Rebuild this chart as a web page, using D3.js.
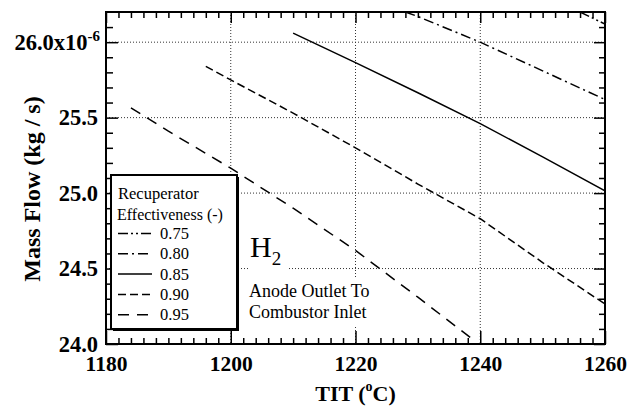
<!DOCTYPE html>
<html>
<head>
<meta charset="utf-8">
<script src="https://cdn.jsdelivr.net/npm/d3@7/dist/d3.min.js"></script>
<style>
  html, body { margin: 0; padding: 0; background: #fff; }
  svg { display: block; font-family: "Liberation Serif", "Times New Roman", serif; }
</style>
</head>
<body>
<svg id="chart" width="629" height="411"></svg>
<script>
// Turbine inlet temperature (°C) and H2 mass flow (×10^-6 kg/s) per recuperator effectiveness
const effectiveness = ["0.75", "0.80", "0.85", "0.90", "0.95"];

const tit075 = [1256, 1260];
const flow075 = [26.20, 26.12];

const tit080 = [1228, 1230, 1240, 1250, 1260];
const flow080 = [26.20, 26.17, 26.00, 25.81, 25.62];

const tit085 = [1210, 1220, 1230, 1240, 1250, 1260];
const flow085 = [26.06, 25.865, 25.665, 25.46, 25.24, 25.015];

const tit090 = [1196, 1200, 1210, 1220, 1230, 1240, 1250, 1260];
const flow090 = [25.84, 25.75, 25.53, 25.30, 25.06, 24.83, 24.54, 24.265];

const tit095 = [1184, 1190, 1200, 1210, 1220, 1230, 1238.5];
const flow095 = [25.565, 25.41, 25.165, 24.90, 24.62, 24.31, 24.04];

const xMajor = [1180, 1200, 1220, 1240, 1260];
const yMajor = [24.0, 24.5, 25.0, 25.5, 26.0];
const yLabels = ["24.0", "24.5", "25.0", "25.5", "26.0"];

const seriesTit = [tit075, tit080, tit085, tit090, tit095];
const seriesFlow = [flow075, flow080, flow085, flow090, flow095];
const dashes = ["10,3,2,3,2,3", "10,4,2,4", null, "8,4", "11,8"];

const svg = d3.select("#chart");
const L = 106, R = 605, T = 12, B = 344;

const x = d3.scaleLinear().domain([1180, 1260]).range([L, R]);
const y = d3.scaleLinear().domain([24.0, 26.2]).range([B, T]);

const xMinor = d3.range(1182, 1260, 2).filter(v => v % 20 !== 0);
const yMinor = d3.range(241, 262, 1).map(v => v / 10).filter(v => Math.round(v * 10) % 5 !== 0);

// dotted grid at major ticks
const grid = svg.append("g");
grid.selectAll("line.gx").data(xMajor.slice(1, -1)).join("line")
  .attr("x1", d => x(d)).attr("x2", d => x(d)).attr("y1", T).attr("y2", B)
  .attr("stroke", "#333").attr("stroke-width", 1).attr("stroke-dasharray", "1,2");
grid.selectAll("line.gy").data(yMajor.slice(1)).join("line")
  .attr("x1", L).attr("x2", R).attr("y1", d => y(d)).attr("y2", d => y(d))
  .attr("stroke", "#333").attr("stroke-width", 1).attr("stroke-dasharray", "1,2");

// curves
svg.append("clipPath").attr("id", "plotClip").append("rect")
  .attr("x", L).attr("y", T).attr("width", R - L).attr("height", B - T);

const line = d3.line().x(d => x(d[0])).y(d => y(d[1]));
const curves = svg.append("g").attr("clip-path", "url(#plotClip)");
seriesTit.forEach((ts, i) => {
  const pts = ts.map((t, j) => [t, seriesFlow[i][j]]);
  curves.append("path").datum(pts)
    .attr("d", line)
    .attr("fill", "none")
    .attr("stroke", "#000")
    .attr("stroke-width", 1.5)
    .attr("stroke-dasharray", dashes[i]);
});

// axes: ticks point inward on all four sides
function styleAxis(g) {
  g.attr("font-family", null);
  g.select(".domain").remove();
  g.selectAll(".tick line").attr("stroke", "#000").attr("stroke-width", 1.5);
}
svg.append("g").attr("transform", `translate(0,${B})`)
  .call(d3.axisBottom(x).tickValues(xMinor).tickSize(-6).tickFormat("")).call(styleAxis);
svg.append("g").attr("transform", `translate(0,${T})`)
  .call(d3.axisTop(x).tickValues(xMinor).tickSize(-6).tickFormat("")).call(styleAxis);
svg.append("g").attr("transform", `translate(${L},0)`)
  .call(d3.axisLeft(y).tickValues(yMinor).tickSize(-7).tickFormat("")).call(styleAxis);
svg.append("g").attr("transform", `translate(${R},0)`)
  .call(d3.axisRight(y).tickValues(yMinor).tickSize(-6).tickFormat("")).call(styleAxis);

svg.append("g").attr("transform", `translate(0,${T})`)
  .call(d3.axisTop(x).tickValues(xMajor).tickSize(-11).tickFormat("")).call(styleAxis);
svg.append("g").attr("transform", `translate(${R},0)`)
  .call(d3.axisRight(y).tickValues(yMajor).tickSize(-11).tickFormat("")).call(styleAxis);

const xAxis = svg.append("g").attr("transform", `translate(0,${B})`)
  .call(d3.axisBottom(x).tickValues(xMajor).tickSize(-13).tickPadding(12).tickFormat(d3.format("d")))
  .call(styleAxis);
xAxis.selectAll("text")
  .attr("font-family", "Liberation Serif").attr("font-weight", "bold")
  .attr("font-size", 21.5).attr("fill", "#000");

const yAxis = svg.append("g").attr("transform", `translate(${L},0)`)
  .call(d3.axisLeft(y).tickValues(yMajor).tickSize(-12).tickPadding(8)
    .tickFormat((d, i) => yLabels[i]))
  .call(styleAxis);
yAxis.selectAll("text")
  .attr("font-family", "Liberation Serif").attr("font-weight", "bold")
  .attr("font-size", 22.5).attr("fill", "#000");
yAxis.selectAll(".tick").filter(d => d === 26.0).select("text")
  .text(null)
  .call(t => {
    t.attr("x", -6);
    t.append("tspan").text("26.0x10");
    t.append("tspan").attr("dy", -9).attr("font-size", 15).text("-6");
  });

// frame
svg.append("rect").attr("x", L).attr("y", T).attr("width", R - L).attr("height", B - T)
  .attr("fill", "none").attr("stroke", "#000").attr("stroke-width", 2);

// axis titles
const xt = svg.append("text").attr("x", (L + R) / 2).attr("y", 401)
  .attr("text-anchor", "middle").attr("font-weight", "bold").attr("font-size", 22);
xt.append("tspan").text("TIT (");
xt.append("tspan").attr("dy", -10).attr("font-size", 14).text("o");
xt.append("tspan").attr("dy", 10).text("C)");

svg.append("text")
  .attr("transform", "translate(40,189) rotate(-90)")
  .attr("text-anchor", "middle").attr("font-weight", "bold").attr("font-size", 24)
  .text("Mass Flow (kg / s)");

// legend
const lg = svg.append("g");
lg.append("rect").attr("x", 113).attr("y", 177).attr("width", 126).attr("height", 154)
  .attr("fill", "#000");
lg.append("rect").attr("x", 111).attr("y", 175).attr("width", 126).attr("height", 154)
  .attr("fill", "#fff").attr("stroke", "#000").attr("stroke-width", 2);
lg.append("text").attr("x", 118).attr("y", 199).attr("font-size", 16.5).text("Recuperator");
lg.append("text").attr("x", 117).attr("y", 220).attr("font-size", 16).text("Effectiveness (-)");
effectiveness.forEach((e, i) => {
  const by = 239 + i * 20.3;
  lg.append("line").attr("x1", 118).attr("x2", 152).attr("y1", by - 5.5).attr("y2", by - 5.5)
    .attr("stroke", "#000").attr("stroke-width", 1.5).attr("stroke-dasharray", dashes[i]);
  lg.append("text").attr("x", 160).attr("y", by).attr("font-size", 16.5).text(e);
});

// annotations
svg.append("rect").attr("x", 248).attr("y", 232).attr("width", 40).attr("height", 38).attr("fill", "#fff");
const h2 = svg.append("text").attr("x", 250).attr("y", 257).attr("font-size", 30);
h2.append("tspan").text("H");
h2.append("tspan").attr("dy", 8).attr("font-size", 19).text("2");

svg.append("rect").attr("x", 246).attr("y", 279).attr("width", 132).attr("height", 46).attr("fill", "#fff");
svg.append("text").attr("x", 249).attr("y", 297).attr("font-size", 18).text("Anode Outlet To");
svg.append("text").attr("x", 249).attr("y", 318).attr("font-size", 18).text("Combustor Inlet");
</script>
</body>
</html>
